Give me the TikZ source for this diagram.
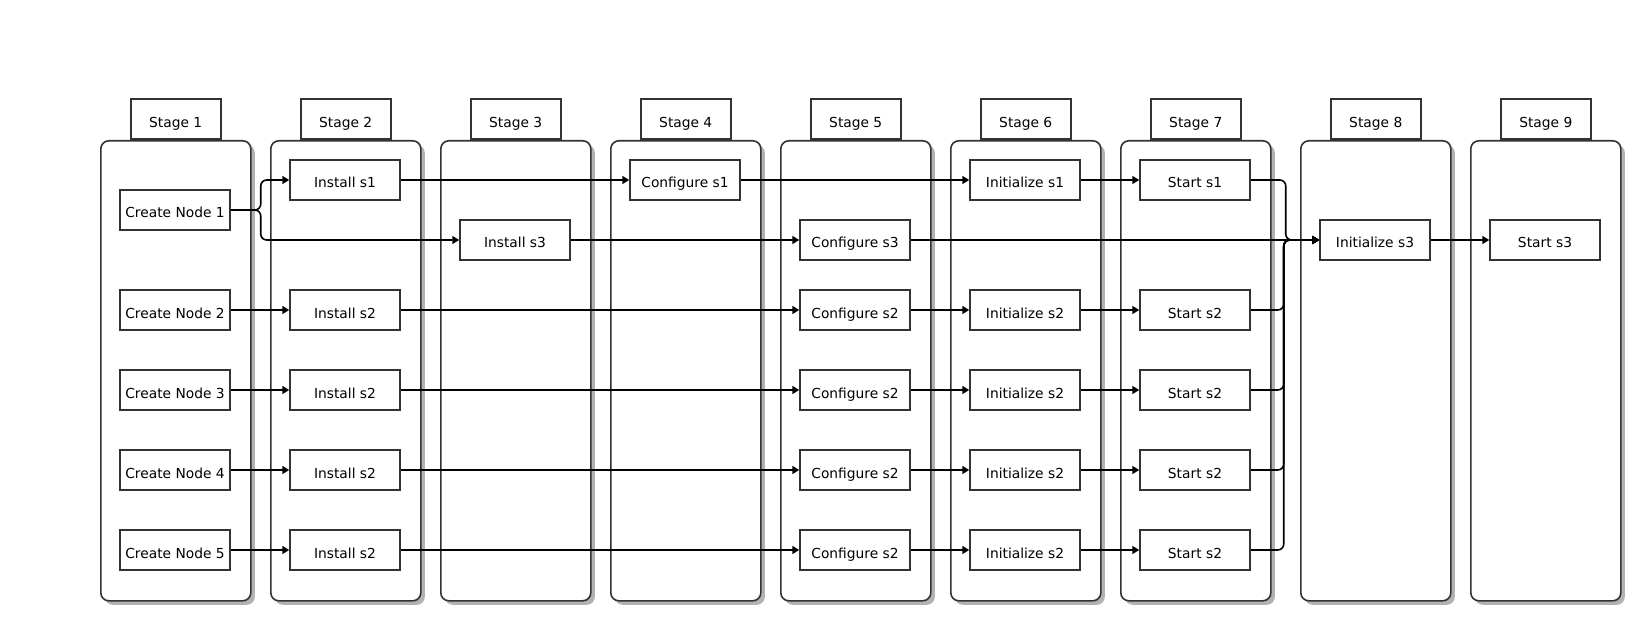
\documentclass[tikz,border=0pt]{standalone}
\usepackage{fontspec}
\setmainfont{DejaVu Sans}
\usetikzlibrary{arrows.meta,shadows}
\definecolor{edge}{HTML}{333333}
\begin{document}
\begin{tikzpicture}[x=1pt,y=-1pt,
  font=\fontsize{13.8pt}{16pt}\selectfont,
  every node/.style={text height=16pt, text depth=0pt},
  cont/.style={draw=edge, line width=1.6pt, rounded corners=8pt, minimum width=150pt, minimum height=460pt, inner sep=0pt, fill=white,
    drop shadow={shadow xshift=4pt, shadow yshift=-4pt, fill=black!30, opacity=1}},
  stagetab/.style={draw=edge, line width=1.5pt, minimum width=90pt, minimum height=40pt, inner sep=0pt, fill=white},
  box/.style={draw=edge, line width=1.5pt, minimum width=110pt, minimum height=40pt, inner sep=0pt, fill=white},
  arr/.style={line width=1.6pt, rounded corners=6pt, -{Triangle[length=7pt,width=8pt]}}]
\useasboundingbox[fill=white] (0,0) rectangle (1640,620);
\foreach \k/\x in {1/100,2/270,3/440,4/610,5/780,6/950,7/1120,8/1300,9/1470}{
  \node[cont, anchor=north west] (c\k) at (\x,140) {};
  \node[stagetab, anchor=south west] (t\k) at (\x+30,140) {Stage \k};
}
% row 1
\node[box] (cn1) at (175,210) {Create Node 1};
\node[box] (is1) at (345,180) {Install s1};
\node[box] (is3) at (515,240) {Install s3};
\node[box] (cf1) at (685,180) {Configure s1};
\node[box] (cf3) at (855,240) {Configure s3};
\node[box] (ini1) at (1025,180) {Initialize s1};
\node[box] (sa1) at (1195,180) {Start s1};
\node[box] (ini3) at (1375,240) {Initialize s3};
\node[box] (sa3) at (1545,240) {Start s3};
% rows 2-5
\foreach \k/\y in {2/310,3/390,4/470,5/550}{
  \node[box] (cn\k) at (175,\y) {Create Node \k};
  \node[box] (in\k) at (345,\y) {Install s2};
  \node[box] (cg\k) at (855,\y) {Configure s2};
  \node[box] (ig\k) at (1025,\y) {Initialize s2};
  \node[box] (sb\k) at (1195,\y) {Start s2};
}
% connectors
\draw[arr] (cn1.east) -- ++(30,0) |- (is1.west);
\draw[arr] (cn1.east) -- ++(30,0) |- (is3.west);
\draw[arr] (is1.east) -- (cf1.west);
\draw[arr] (cf1.east) -- (ini1.west);
\draw[arr] (ini1.east) -- (sa1.west);
\draw[arr] (is3.east) -- (cf3.west);
\draw[arr] (cf3.east) -- (ini3.west);
\draw[arr] (ini3.east) -- (sa3.west);
\draw[arr] (sa1.east) -- ++(35,0) |- (ini3.west);
\foreach \k in {2,3,4,5}{
  \draw[arr] (cn\k.east) -- (in\k.west);
  \draw[arr] (in\k.east) -- (cg\k.west);
  \draw[arr] (cg\k.east) -- (ig\k.west);
  \draw[arr] (ig\k.east) -- (sb\k.west);
  \draw[arr] (sb\k.east) -- ++(33,0) |- (ini3.west);
}
\end{tikzpicture}
\end{document}
